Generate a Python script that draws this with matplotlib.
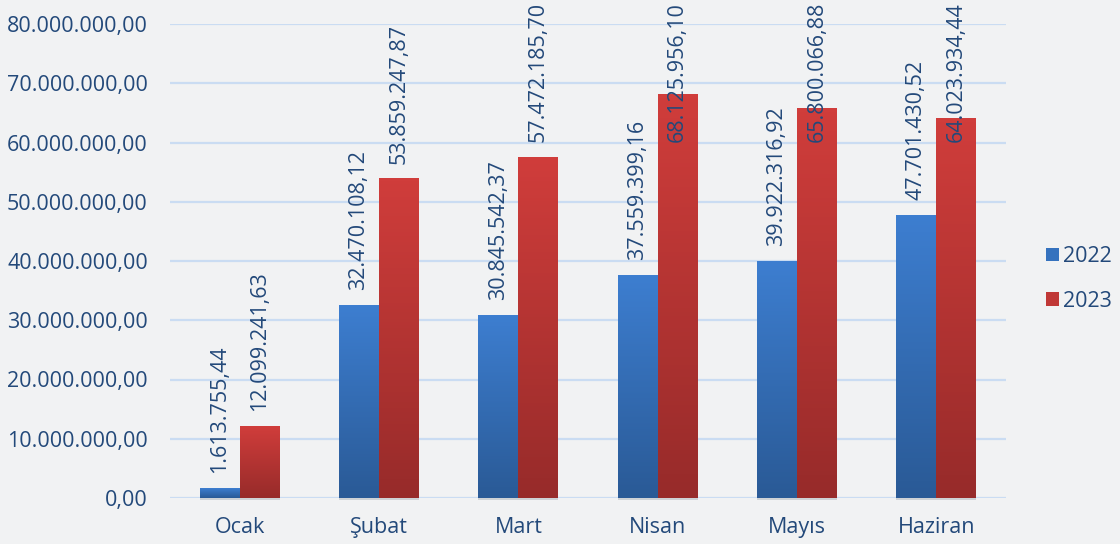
import matplotlib
matplotlib.use("Agg")
import matplotlib.pyplot as plt
import matplotlib.patches as mpatches
from matplotlib.colors import LinearSegmentedColormap
from matplotlib.ticker import FuncFormatter
import numpy as np

# veriler
aylar = ["Ocak", "Şubat", "Mart", "Nisan", "Mayıs", "Haziran"]
yil_2022 = [1613755.44, 32470108.12, 30845542.37, 37559399.16, 39922316.92, 47701430.52]
yil_2023 = [12099241.63, 53859247.87, 57472185.70, 68125956.10, 65800066.88, 64023934.44]
seri_adlari = ["2022", "2023"]
y_ticks = [0, 10e6, 20e6, 30e6, 40e6, 50e6, 60e6, 70e6, 80e6]

yazi_renk = "#23497A"
grid_renk = "#CADCF2"
arka = "#F1F2F3"

plt.rcParams['font.family'] = ['Open Sans', 'DejaVu Sans']


def tr_format(v, decimals=2):
    s = f"{v:,.{decimals}f}"
    return s.replace(",", "X").replace(".", ",").replace("X", ".")


fig = plt.figure(figsize=(11.2, 5.44), dpi=100, facecolor=arka)
ax = fig.add_axes([170 / 1120, 1 - 498 / 544, 836 / 1120, (498 - 24) / 544])
ax.set_facecolor(arka)

x = np.arange(len(aylar))
w = 0.287

mavi = LinearSegmentedColormap.from_list("mavi", ["#2A5A96", "#3D7ED0"])
kirmizi = LinearSegmentedColormap.from_list("kirmizi", ["#972B2A", "#D03D3B"])
grad = np.linspace(0, 1, 100).reshape(-1, 1)

etiketler = []
for vals, off, cmap, renk in [(yil_2022, -w / 2, mavi, "#3572BE"), (yil_2023, w / 2, kirmizi, "#C03836")]:
    bars = ax.bar(x + off, vals, width=w, color=renk, zorder=3)
    for b, v in zip(bars, vals):
        x0 = b.get_x()
        ax.imshow(grad, extent=[x0, x0 + w, 0, v], origin="lower", cmap=cmap,
                  aspect="auto", zorder=3.5)
        # hafif gölge
        ax.add_patch(mpatches.Rectangle((x0, -0.35e6), w, 0.35e6, color="#B8BDC4",
                                        alpha=0.6, zorder=2.5, clip_on=False, lw=0))
        t = ax.annotate(tr_format(v), (b.get_x() + w / 2, v), xytext=(0, 11),
                        textcoords="offset points", rotation=90, ha="center", va="bottom",
                        fontsize=15.5, color=yazi_renk, zorder=5, annotation_clip=False)
        etiketler.append(t)

ax.set_xlim(-0.5, len(aylar) - 0.5)
ax.set_ylim(0, 80e6)
ax.set_yticks(y_ticks)
ax.yaxis.set_major_formatter(FuncFormatter(lambda v, p: tr_format(v)))
ax.set_xticks(x)
ax.set_xticklabels(aylar)
ax.tick_params(axis="y", length=0, pad=16, labelsize=15.5, labelcolor=yazi_renk)
ax.tick_params(axis="x", length=0, pad=14, labelsize=15.5, labelcolor=yazi_renk)
for s in ax.spines.values():
    s.set_visible(False)
ax.grid(axis="y", color=grid_renk, linewidth=1.6, zorder=0)
ax.set_axisbelow(True)

proxy = [mpatches.Patch(facecolor="#3572BE", label=seri_adlari[0]),
         mpatches.Patch(facecolor="#C03836", label=seri_adlari[1])]
fig.legend(handles=proxy, loc="center left", bbox_to_anchor=(1046 / 1120, 1 - 279 / 544),
           frameon=False, fontsize=15.5, labelcolor=yazi_renk, handlelength=0.6,
           handleheight=0.6, handletextpad=0.2, labelspacing=1.1, borderpad=0,
           borderaxespad=0)

# tepeden taşan etiketleri aşağı kaydır
fig.canvas.draw()
r = fig.canvas.get_renderer()
H = fig.bbox.height
for t in etiketler:
    bb = t.get_window_extent(r)
    if bb.y1 > H - 2:
        dy = bb.y1 - (H - 2)
        t.xyann = (0, 11 - dy * 72 / fig.dpi)

fig.savefig("out.png", dpi=100, facecolor=arka)
